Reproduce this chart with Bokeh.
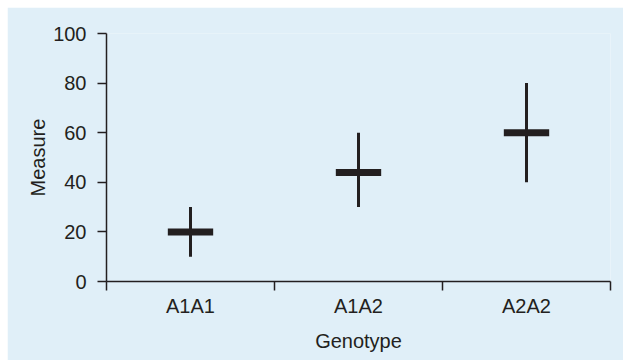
from bokeh.plotting import figure
from bokeh.models import (Range1d, LinearAxis, FixedTicker, ColumnDataSource)
from bokeh.embed import file_html
from bokeh.resources import INLINE

# data
categories = ["A1A1", "A1A2", "A2A2"]
means = [20, 44, 60]
lows = [10, 30, 40]
highs = [30, 60, 80]
y_ticks = [0, 20, 40, 60, 80, 100]

INK = "#231f20"
BG = "#e0eff8"
FONT = "Liberation Sans"

centers = [i + 0.5 for i in range(len(categories))]
src = ColumnDataSource(dict(x=centers, mean=means, low=lows, high=highs))

p = figure(width=616, height=353, x_range=Range1d(0, len(categories)),
           y_range=Range1d(0, 100), output_backend="svg", toolbar_location=None,
           x_axis_location=None, y_axis_location=None,
           min_border_left=99, min_border_right=13, min_border_top=26, min_border_bottom=79)
p.styles = {"margin-left": "7px", "margin-top": "7px"}
p.background_fill_color = BG
p.border_fill_color = BG
p.outline_line_color = None
p.grid.visible = False

xt = FixedTicker(ticks=centers, minor_ticks=list(range(len(categories) + 1)))
xaxis = LinearAxis(ticker=xt,
                   major_label_overrides={c: n for c, n in zip(centers, categories)},
                   axis_label="Genotype")
xaxis.major_tick_out = 0
xaxis.major_tick_in = 0
xaxis.minor_tick_out = 9
xaxis.minor_tick_in = 0
xaxis.minor_tick_line_color = INK
xaxis.minor_tick_line_width = 1.5
xaxis.axis_line_color = INK
xaxis.axis_line_width = 1.5
xaxis.major_label_standoff = 4
xaxis.major_label_text_font = FONT
xaxis.major_label_text_font_size = "20px"
xaxis.major_label_text_color = INK
xaxis.axis_label_text_font = FONT
xaxis.axis_label_text_font_size = "20px"
xaxis.axis_label_text_font_style = "normal"
xaxis.axis_label_text_color = INK
xaxis.axis_label_standoff = 10
p.add_layout(xaxis, "below")

yaxis = LinearAxis(ticker=FixedTicker(ticks=y_ticks, minor_ticks=[]), axis_label="Measure")
yaxis.major_tick_out = 9
yaxis.major_tick_in = 0
yaxis.major_tick_line_color = INK
yaxis.major_tick_line_width = 1.5
yaxis.axis_line_color = INK
yaxis.axis_line_width = 1.5
yaxis.major_label_standoff = 11
yaxis.major_label_text_font = FONT
yaxis.major_label_text_font_size = "20px"
yaxis.major_label_text_color = INK
yaxis.axis_label_text_font = FONT
yaxis.axis_label_text_font_size = "20px"
yaxis.axis_label_text_font_style = "normal"
yaxis.axis_label_text_color = INK
yaxis.axis_label_standoff = 1
p.add_layout(yaxis, "left")

p.segment(x0="x", y0="low", x1="x", y1="high", source=src, line_color=INK, line_width=3)
p.rect(x="x", y="mean", width=0.27, height=7, height_units="screen", source=src,
       fill_color=INK, line_color=None)

open("out.html", "w").write(file_html(p, INLINE))
